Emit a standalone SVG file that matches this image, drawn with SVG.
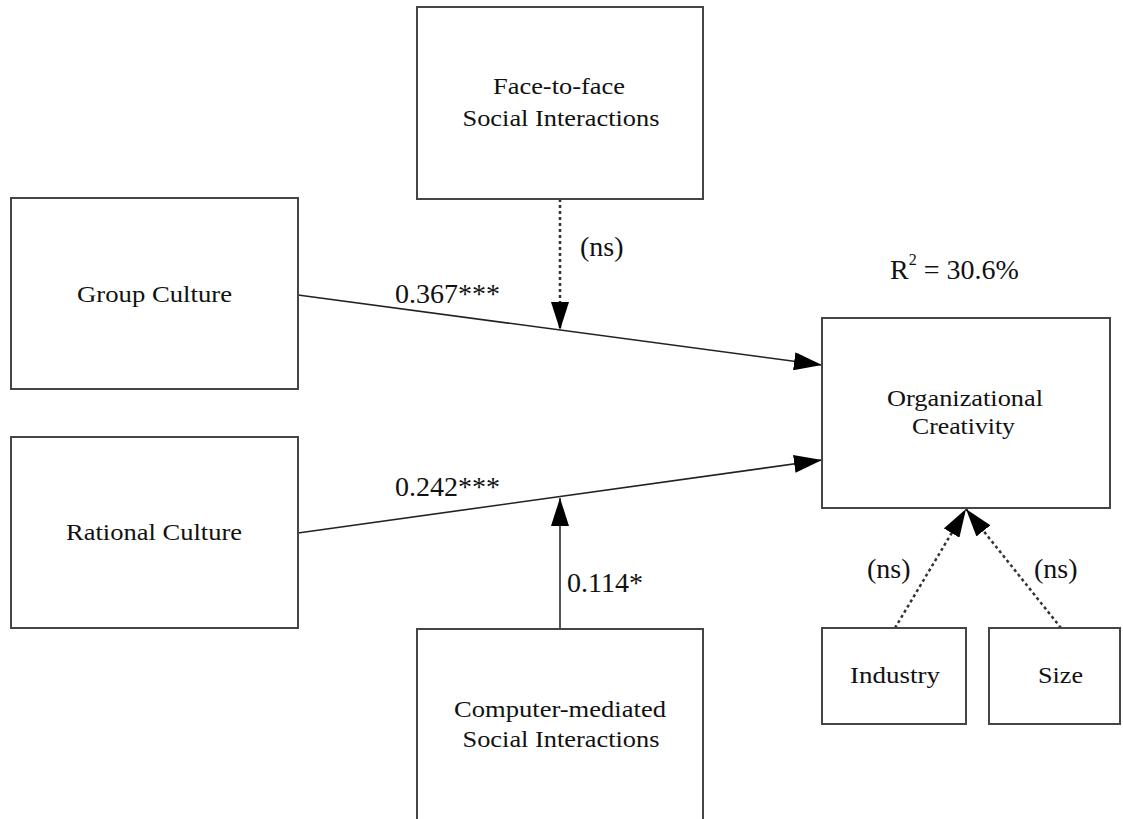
<svg xmlns="http://www.w3.org/2000/svg" width="1123" height="819" viewBox="0 0 1123 819">
  <style>
    .box { fill: #ffffff; stroke: #454545; stroke-width: 2; }
    .t { font-family: 'Liberation Serif', serif; font-size: 23px; fill: #111; text-anchor: middle; }
    .lbl { font-family: 'Liberation Serif', serif; font-size: 28px; fill: #111; }
    .solid { stroke: #222; stroke-width: 1.6; fill: none; }
    .dot { stroke: #333; stroke-width: 2.5; stroke-dasharray: 3 3; fill: none; }
  </style>
  <defs>
    <marker id="ah" markerUnits="userSpaceOnUse" markerWidth="28" markerHeight="18" refX="28" refY="9" orient="auto">
      <path d="M0,0 L28,9 L0,18 z" fill="#000"/>
    </marker>
  </defs>
  <rect x="0" y="0" width="1123" height="819" fill="#ffffff"/>

  <g id="connectors">
    <line class="solid" x1="298" y1="295" x2="822" y2="365" marker-end="url(#ah)"/>
    <line class="solid" x1="298" y1="533" x2="822" y2="460" marker-end="url(#ah)"/>
    <line class="dot" x1="560" y1="199" x2="560" y2="330" marker-end="url(#ah)"/>
    <line class="solid" x1="560" y1="629" x2="560" y2="498" marker-end="url(#ah)" style="stroke:#555;stroke-width:2"/>
    <line class="dot" x1="895" y1="628" x2="966" y2="509" marker-end="url(#ah)"/>
    <line class="dot" x1="1061" y1="628" x2="966" y2="509" marker-end="url(#ah)"/>
    <text class="lbl" x="395" y="303">0.367***</text>
    <text class="lbl" x="395" y="496">0.242***</text>
    <text class="lbl" x="580" y="256">(ns)</text>
    <text class="lbl" x="567" y="592">0.114*</text>
    <text class="lbl" x="867" y="578">(ns)</text>
    <text class="lbl" x="1034" y="578">(ns)</text>
  </g>

  <g id="face-to-face">
    <rect class="box" x="417" y="7" width="286" height="192"/>
    <text class="t" x="559" y="94" textLength="132" lengthAdjust="spacingAndGlyphs">Face-to-face</text>
    <text class="t" x="561" y="126" textLength="197" lengthAdjust="spacingAndGlyphs">Social Interactions</text>
  </g>

  <g id="group-culture">
    <rect class="box" x="11" y="198" width="287" height="191"/>
    <text class="t" x="154.5" y="302" textLength="155" lengthAdjust="spacingAndGlyphs">Group Culture</text>
  </g>

  <g id="rational-culture">
    <rect class="box" x="11" y="437" width="287" height="191"/>
    <text class="t" x="154" y="540" textLength="176" lengthAdjust="spacingAndGlyphs">Rational Culture</text>
  </g>

  <g id="computer-mediated">
    <rect class="box" x="417" y="629" width="286" height="192"/>
    <text class="t" x="560" y="717" textLength="212" lengthAdjust="spacingAndGlyphs">Computer-mediated</text>
    <text class="t" x="561" y="747" textLength="197" lengthAdjust="spacingAndGlyphs">Social Interactions</text>
  </g>

  <g id="organizational-creativity">
    <rect class="box" x="822" y="318" width="288" height="190"/>
    <text class="t" x="965" y="406" textLength="156" lengthAdjust="spacingAndGlyphs">Organizational</text>
    <text class="t" x="963.5" y="434" textLength="103" lengthAdjust="spacingAndGlyphs">Creativity</text>
    <text class="lbl" x="890" y="279">R<tspan font-size="16" dy="-14">2</tspan><tspan dy="14"> = 30.6%</tspan></text>
  </g>

  <g id="industry">
    <rect class="box" x="822" y="628" width="144" height="96"/>
    <text class="t" x="895" y="683" textLength="90" lengthAdjust="spacingAndGlyphs">Industry</text>
  </g>

  <g id="size">
    <rect class="box" x="989" y="628" width="131" height="96"/>
    <text class="t" x="1060.5" y="683" textLength="45" lengthAdjust="spacingAndGlyphs">Size</text>
  </g>
</svg>
